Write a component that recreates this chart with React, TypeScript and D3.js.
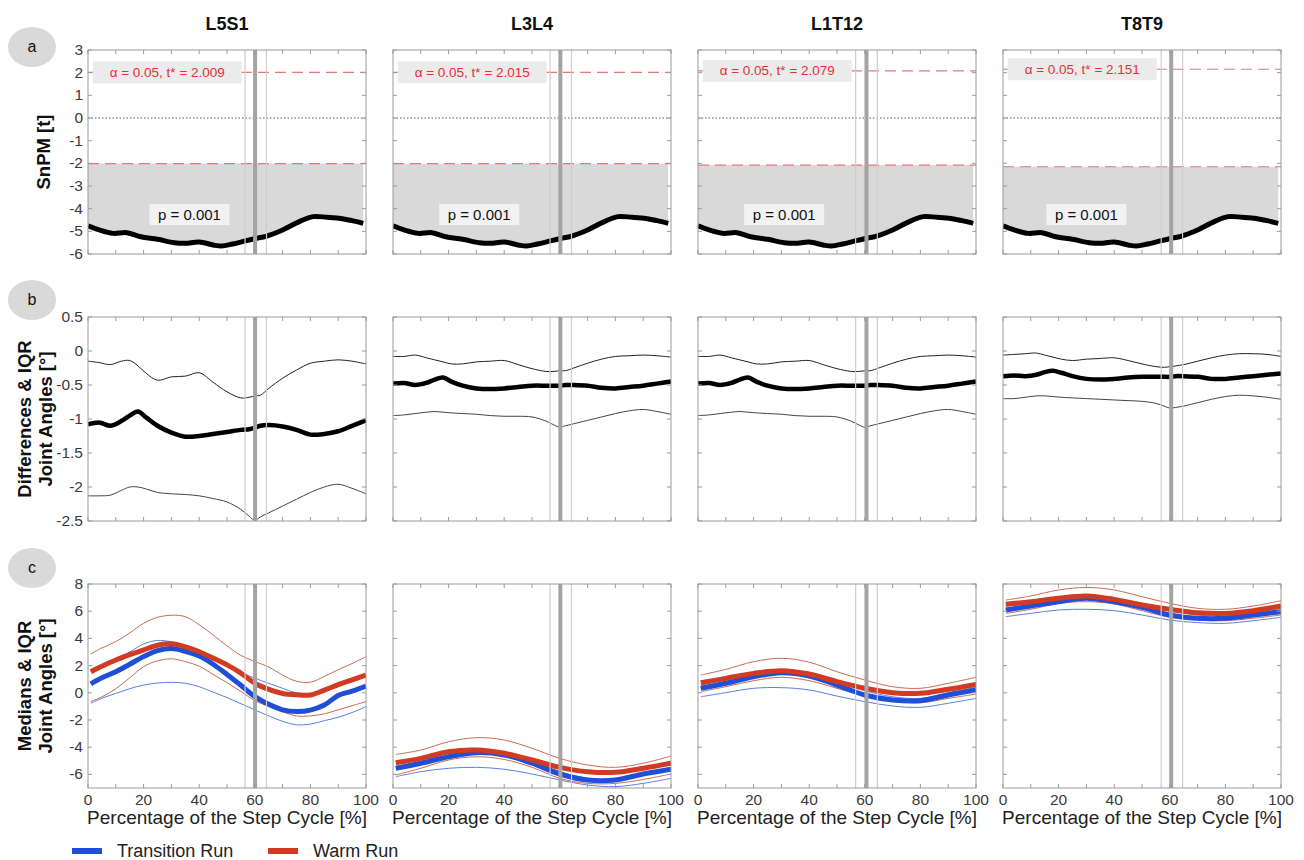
import React from "react";
import * as d3 from "d3";

// spinal segments (columns)
const segments = ["L5S1", "L3L4", "L1T12", "T8T9"];
const rowTags = ["a", "b", "c"];

// SnPM critical thresholds and cluster p values
const tCritical = [2.009, 2.015, 2.079, 2.151];
const pValues = ["0.001", "0.001", "0.001", "0.001"];
const pLabelAt = [36.5, 31, 31, 30];

// step cycle events (% of cycle)
const eventMain = [60.1, 60.2, 60.6, 60.5];
const eventEarly = [56.5, 56.5, 56.7, 56.9];
const eventLate = [64.2, 64.2, 64.5, 64.6];

// row a: SnPM t curve
const snpmX = [0, 4, 9, 14, 19, 25, 31, 35, 40, 45, 48, 52, 57, 61, 64, 70, 76, 81, 86, 91, 95, 99];
const snpmT = [-4.76, -4.94, -5.09, -5.06, -5.24, -5.35, -5.5, -5.53, -5.47, -5.6, -5.65, -5.56, -5.41, -5.3, -5.22, -4.94, -4.57, -4.35, -4.38, -4.43, -4.53, -4.65];

// row b: differences (median) and IQR
const diffX = [0, 4, 8, 12, 15, 18, 21, 25, 30, 35, 40, 45, 50, 55, 58, 60, 62, 65, 70, 75, 80, 85, 90, 95, 100];
const diffUpL5S1 = [-0.15, -0.17, -0.2, -0.15, -0.14, -0.22, -0.33, -0.43, -0.38, -0.37, -0.32, -0.46, -0.6, -0.69, -0.68, -0.66, -0.65, -0.55, -0.4, -0.28, -0.18, -0.15, -0.13, -0.15, -0.19];
const diffMedL5S1 = [-1.08, -1.05, -1.1, -1.03, -0.95, -0.89, -0.98, -1.1, -1.2, -1.26, -1.25, -1.22, -1.19, -1.16, -1.15, -1.13, -1.1, -1.09, -1.11, -1.16, -1.23, -1.22, -1.18, -1.1, -1.02];
const diffLoL5S1 = [-2.13, -2.13, -2.12, -2.05, -2.0, -2.0, -2.03, -2.08, -2.1, -2.11, -2.13, -2.17, -2.22, -2.33, -2.43, -2.49, -2.44, -2.38, -2.28, -2.18, -2.08, -2.0, -1.96, -2.02, -2.1];
const diffUpL3L4 = [-0.08, -0.08, -0.06, -0.1, -0.13, -0.16, -0.19, -0.19, -0.16, -0.15, -0.14, -0.2, -0.26, -0.3, -0.3, -0.29, -0.29, -0.25, -0.18, -0.12, -0.08, -0.07, -0.06, -0.07, -0.09];
const diffMedL3L4 = [-0.48, -0.47, -0.5, -0.47, -0.42, -0.39, -0.45, -0.51, -0.55, -0.56, -0.55, -0.53, -0.51, -0.51, -0.51, -0.51, -0.5, -0.5, -0.51, -0.54, -0.55, -0.53, -0.51, -0.48, -0.45];
const diffLoL3L4 = [-0.95, -0.94, -0.92, -0.9, -0.89, -0.9, -0.91, -0.92, -0.93, -0.95, -0.96, -0.96, -0.97, -1.03, -1.09, -1.12, -1.1, -1.07, -1.02, -0.97, -0.92, -0.88, -0.86, -0.89, -0.93];
const diffUpL1T12 = [-0.08, -0.08, -0.06, -0.1, -0.13, -0.16, -0.19, -0.19, -0.16, -0.15, -0.14, -0.2, -0.26, -0.3, -0.3, -0.29, -0.29, -0.25, -0.18, -0.12, -0.08, -0.07, -0.06, -0.07, -0.09];
const diffMedL1T12 = [-0.48, -0.47, -0.5, -0.47, -0.42, -0.39, -0.45, -0.51, -0.55, -0.56, -0.55, -0.53, -0.51, -0.51, -0.51, -0.51, -0.5, -0.5, -0.51, -0.54, -0.55, -0.53, -0.51, -0.48, -0.45];
const diffLoL1T12 = [-0.95, -0.94, -0.92, -0.9, -0.89, -0.9, -0.91, -0.92, -0.93, -0.95, -0.96, -0.96, -0.97, -1.03, -1.09, -1.12, -1.1, -1.07, -1.02, -0.97, -0.92, -0.88, -0.86, -0.89, -0.93];
const diffUpT8T9 = [-0.06, -0.05, -0.04, -0.03, -0.06, -0.09, -0.12, -0.14, -0.12, -0.11, -0.1, -0.14, -0.19, -0.23, -0.24, -0.23, -0.22, -0.2, -0.15, -0.1, -0.06, -0.04, -0.04, -0.05, -0.08];
const diffMedT8T9 = [-0.37, -0.36, -0.37, -0.35, -0.31, -0.29, -0.32, -0.37, -0.41, -0.42, -0.41, -0.39, -0.38, -0.38, -0.38, -0.38, -0.37, -0.37, -0.38, -0.41, -0.41, -0.39, -0.37, -0.35, -0.33];
const diffLoT8T9 = [-0.7, -0.7, -0.68, -0.66, -0.66, -0.67, -0.68, -0.69, -0.7, -0.71, -0.72, -0.73, -0.74, -0.77, -0.81, -0.84, -0.83, -0.81, -0.76, -0.71, -0.67, -0.65, -0.66, -0.68, -0.71];

// row c: medians and IQR of joint angles
const angleXFine = [1, 5, 10, 15, 20, 25, 30, 35, 40, 45, 50, 55, 60, 65, 70, 75, 80, 85, 90, 95, 100];
const angleXCoarse = [1, 10, 20, 30, 40, 50, 60, 70, 80, 90, 100];

const transMedL5S1 = [0.65, 1.1, 1.55, 2.1, 2.66, 3.1, 3.25, 3.05, 2.7, 2.1, 1.35, 0.55, -0.28, -0.85, -1.25, -1.38, -1.27, -0.9, -0.2, 0.12, 0.5];
const transUpL5S1 = [1.68, 2.0, 2.41, 3.0, 3.59, 3.85, 3.75, 3.5, 3.15, 2.65, 2.1, 1.5, 1.07, 0.7, 0.33, 0.0, -0.05, 0.15, 0.5, 0.9, 1.31];
const transLoL5S1 = [-0.77, -0.4, -0.05, 0.3, 0.57, 0.72, 0.77, 0.7, 0.45, 0.05, -0.35, -0.8, -1.26, -1.7, -2.1, -2.35, -2.3, -2.05, -1.8, -1.45, -1.02];
const warmMedL5S1 = [1.55, 1.95, 2.41, 2.8, 3.15, 3.5, 3.6, 3.38, 3.02, 2.55, 2.05, 1.45, 0.7, 0.25, -0.05, -0.15, -0.16, 0.2, 0.6, 0.95, 1.31];
const warmUpL5S1 = [2.85, 3.3, 3.76, 4.4, 5.11, 5.55, 5.7, 5.6, 5.0, 4.25, 3.45, 2.75, 2.3, 1.9, 1.3, 0.85, 0.78, 1.2, 1.7, 2.15, 2.66];
const warmLoL5S1 = [-0.65, -0.3, 0.3, 1.1, 1.92, 2.35, 2.5, 2.3, 1.95, 1.35, 0.75, 0.1, -0.58, -1.0, -1.4, -1.7, -1.7, -1.55, -1.25, -0.95, -0.65];

const transMedL3L4 = [-5.55, -5.18, -4.7, -4.4, -4.57, -5.18, -5.97, -6.41, -6.41, -5.97, -5.62];
const transUpL3L4 = [-5.43, -5.06, -4.45, -4.33, -4.45, -5.0, -5.8, -6.29, -6.37, -6.04, -5.55];
const transLoL3L4 = [-6.17, -5.8, -5.55, -5.48, -5.62, -5.97, -6.41, -6.78, -6.9, -6.66, -6.29];
const warmMedL3L4 = [-5.14, -4.82, -4.33, -4.21, -4.45, -4.94, -5.48, -5.8, -5.85, -5.55, -5.18];
const warmUpL3L4 = [-4.53, -4.21, -3.6, -3.3, -3.47, -4.08, -4.82, -5.31, -5.48, -5.18, -4.65];
const warmLoL3L4 = [-6.04, -5.55, -4.94, -4.7, -4.9, -5.48, -6.29, -6.66, -6.66, -6.37, -5.97];

const transMedL1T12 = [0.33, 0.7, 1.18, 1.48, 1.24, 0.57, -0.16, -0.53, -0.58, -0.16, 0.21];
const transUpL1T12 = [0.57, 0.94, 1.48, 1.68, 1.43, 0.82, 0.16, -0.29, -0.41, 0.01, 0.4];
const transLoL1T12 = [-0.29, 0.01, 0.33, 0.38, 0.21, -0.24, -0.65, -0.97, -1.07, -0.77, -0.41];
const warmMedL1T12 = [0.74, 1.06, 1.43, 1.63, 1.38, 0.82, 0.33, 0.01, -0.04, 0.26, 0.62];
const warmUpL1T12 = [1.31, 1.72, 2.29, 2.54, 2.25, 1.55, 0.94, 0.45, 0.33, 0.7, 1.14];
const warmLoL1T12 = [0.08, 0.45, 0.89, 1.14, 0.89, 0.33, -0.24, -0.58, -0.73, -0.41, -0.1];

const transMedT8T9 = [6.09, 6.38, 6.7, 6.95, 6.7, 6.29, 5.72, 5.48, 5.48, 5.72, 5.96];
const transUpT8T9 = [6.38, 6.58, 6.95, 7.12, 6.95, 6.58, 6.04, 5.72, 5.65, 5.89, 6.21];
const transLoT8T9 = [5.6, 5.84, 6.09, 6.14, 6.04, 5.72, 5.35, 5.16, 5.11, 5.3, 5.55];
const warmMedT8T9 = [6.51, 6.7, 6.95, 7.12, 6.87, 6.46, 6.14, 5.89, 5.84, 6.04, 6.38];
const warmUpT8T9 = [6.82, 7.12, 7.56, 7.75, 7.56, 7.07, 6.58, 6.21, 6.14, 6.38, 6.77];
const warmLoT8T9 = [5.84, 6.14, 6.58, 6.7, 6.53, 6.04, 5.55, 5.35, 5.3, 5.48, 5.72];

const diffUp = [diffUpL5S1, diffUpL3L4, diffUpL1T12, diffUpT8T9];
const diffMed = [diffMedL5S1, diffMedL3L4, diffMedL1T12, diffMedT8T9];
const diffLo = [diffLoL5S1, diffLoL3L4, diffLoL1T12, diffLoT8T9];
const angleX = [angleXFine, angleXCoarse, angleXCoarse, angleXCoarse];
const transMed = [transMedL5S1, transMedL3L4, transMedL1T12, transMedT8T9];
const transUp = [transUpL5S1, transUpL3L4, transUpL1T12, transUpT8T9];
const transLo = [transLoL5S1, transLoL3L4, transLoL1T12, transLoT8T9];
const warmMed = [warmMedL5S1, warmMedL3L4, warmMedL1T12, warmMedT8T9];
const warmUp = [warmUpL5S1, warmUpL3L4, warmUpL1T12, warmUpT8T9];
const warmLo = [warmLoL5S1, warmLoL3L4, warmLoL1T12, warmLoT8T9];

const legendLabels = ["Transition Run", "Warm Run"];
const xAxisTitle = "Percentage of the Step Cycle [%]";

// layout
const colLeft = [88, 393, 698, 1003];
const rowTop = [50, 317, 584];
const W = 278;
const H = 204;
const FONT = "'Liberation Sans', Arial, Helvetica, sans-serif";
const FRAME = "#9b9b9b";
const TICKTXT = "#3a3a3a";
const BLUE = "#1f4fd6";
const RED = "#d23a21";

const x = d3.scaleLinear().domain([0, 100]).range([0, W]);
const ySnpm = d3.scaleLinear().domain([-6, 3]).range([H, 0]);
const yDiff = d3.scaleLinear().domain([-2.5, 0.5]).range([H, 0]);
const yAng = d3.scaleLinear().domain([-7, 8]).range([H, 0]);
const yScales = [ySnpm, yDiff, yAng];
const yTicks = [ySnpm.ticks(9), yDiff.ticks(6), d3.range(-6, 9, 2)];

const linePath = (xs: number[], ys: number[], y: d3.ScaleLinear<number, number>) =>
  d3.line<number>()
    .x((_, i) => x(xs[i]))
    .y(d => y(d))
    .curve(d3.curveCatmullRom)(ys) || "";

function Frame({ row }: { row: number }) {
  const y = yScales[row];
  return (
    <g>
      {x.ticks(10).map(t => (
        <g key={"x" + t}>
          <line x1={x(t)} x2={x(t)} y1={H} y2={H - 4} stroke={FRAME} />
          <line x1={x(t)} x2={x(t)} y1={0} y2={4} stroke={FRAME} />
        </g>
      ))}
      {yTicks[row].map(t => (
        <g key={"y" + t}>
          <line x1={0} x2={4} y1={y(t)} y2={y(t)} stroke={FRAME} />
          <line x1={W} x2={W - 4} y1={y(t)} y2={y(t)} stroke={FRAME} />
        </g>
      ))}
      <rect x={0} y={0} width={W} height={H} fill="none" stroke={FRAME} strokeWidth={1} />
    </g>
  );
}

function Events({ col }: { col: number }) {
  return (
    <g>
      {[eventEarly[col], eventLate[col]].map((e, i) => (
        <line key={i} x1={x(e)} x2={x(e)} y1={0} y2={H} stroke="#cdcdcd" strokeWidth={1.2} />
      ))}
      <line x1={x(eventMain[col])} x2={x(eventMain[col])} y1={0} y2={H} stroke="#a4a4a4" strokeWidth={4} />
    </g>
  );
}

function SnpmPanel({ col }: { col: number }) {
  const ts = tCritical[col];
  const area = d3.area<number>()
    .x((_, i) => x(snpmX[i]))
    .y0(ySnpm(-ts))
    .y1(d => ySnpm(d))
    .curve(d3.curveCatmullRom)(snpmT) || "";
  const boxL = x(1.7), boxR = x(55.3);
  const pX = x(pLabelAt[col]), pY = ySnpm(-4.26);
  return (
    <g>
      <path d={area} fill="#d9d9d9" />
      <line x1={0} x2={W} y1={ySnpm(0)} y2={ySnpm(0)} stroke="#333" strokeWidth={0.8} strokeDasharray="1.5 2" />
      <line x1={0} x2={W} y1={ySnpm(ts)} y2={ySnpm(ts)} stroke="#e27a7a" strokeWidth={1.2} strokeDasharray="11 6" />
      <line x1={0} x2={W} y1={ySnpm(-ts)} y2={ySnpm(-ts)} stroke="#e27a7a" strokeWidth={1.2} strokeDasharray="11 6" />
      <rect x={boxL} y={ySnpm(ts) - 11} width={boxR - boxL} height={22} fill="#ebebeb" />
      <text x={(boxL + boxR) / 2} y={ySnpm(ts) + 4.5} textAnchor="middle" fontSize={13.5} fill="#e3303a" fontFamily={FONT}>
        {`α = 0.05, t* = ${ts.toFixed(3)}`}
      </text>
      <rect x={pX - 40} y={pY - 10.5} width={80} height={21} fill="#f2f2f2" />
      <text x={pX} y={pY + 5} textAnchor="middle" fontSize={15} fill="#111" fontFamily={FONT}>
        {`p = ${pValues[col]}`}
      </text>
      <path d={linePath(snpmX, snpmT, ySnpm)} fill="none" stroke="#000" strokeWidth={5} strokeLinejoin="round" />
    </g>
  );
}

function DiffPanel({ col }: { col: number }) {
  return (
    <g>
      <path d={linePath(diffX, diffUp[col], yDiff)} fill="none" stroke="#222" strokeWidth={1} />
      <path d={linePath(diffX, diffLo[col], yDiff)} fill="none" stroke="#444" strokeWidth={1} />
      <path d={linePath(diffX, diffMed[col], yDiff)} fill="none" stroke="#000" strokeWidth={4.5} strokeLinejoin="round" />
    </g>
  );
}

function AnglePanel({ col }: { col: number }) {
  const xs = angleX[col];
  return (
    <g>
      <path d={linePath(xs, transUp[col], yAng)} fill="none" stroke="#5b80da" strokeWidth={1} />
      <path d={linePath(xs, transLo[col], yAng)} fill="none" stroke="#5b80da" strokeWidth={1} />
      <path d={linePath(xs, warmUp[col], yAng)} fill="none" stroke="#cc6a55" strokeWidth={1} />
      <path d={linePath(xs, warmLo[col], yAng)} fill="none" stroke="#cc6a55" strokeWidth={1} />
      <path d={linePath(xs, transMed[col], yAng)} fill="none" stroke={BLUE} strokeWidth={5} />
      <path d={linePath(xs, warmMed[col], yAng)} fill="none" stroke={RED} strokeWidth={5} />
    </g>
  );
}

const yTitles = [["SnPM [t]"], ["Differences & IQR", "Joint Angles [°]"], ["Medians & IQR", "Joint Angles [°]"]];
const tagCenters = [47, 300, 568];

export default function App() {
  return (
    <svg width={1304} height={860} style={{ position: "absolute", left: 0, top: 0, background: "#fff" }} fontFamily={FONT}>
      <defs>
        <clipPath id="plot-clip">
          <rect x={0} y={0} width={W} height={H} />
        </clipPath>
      </defs>

      {segments.map((s, c) => (
        <text key={s} x={colLeft[c] + W / 2} y={30} textAnchor="middle" fontSize={18} fontWeight="bold" fill="#111">{s}</text>
      ))}

      {rowTags.map((t, r) => (
        <g key={t}>
          <ellipse cx={32} cy={tagCenters[r]} rx={24} ry={20} fill="#d9d9d9" />
          <text x={32} y={tagCenters[r] + 5} textAnchor="middle" fontSize={16} fill="#111">{t}</text>
        </g>
      ))}

      {yTitles.map((lines, r) => {
        const cy = rowTop[r] + H / 2;
        const xs = lines.length === 1 ? [50] : [31, 52];
        return lines.map((l, i) => (
          <text key={r + "-" + i} transform={`translate(${xs[i]},${cy}) rotate(-90)`} textAnchor="middle" fontSize={18.5} fontWeight="bold" fill="#111">{l}</text>
        ));
      })}

      {rowTop.map((top, r) => (
        <g key={"row" + r}>
          {yTicks[r].map(t => (
            <text key={t} x={83} y={top + yScales[r](t) + 5} textAnchor="end" fontSize={15.5} fill={TICKTXT}>{String(t)}</text>
          ))}
          {segments.map((s, c) => (
            <g key={s} transform={`translate(${colLeft[c]},${top})`}>
              <rect x={0} y={0} width={W} height={H} fill="#fff" />
              <g clipPath="url(#plot-clip)">
                {r === 0 && <SnpmPanel col={c} />}
                {r === 1 && <DiffPanel col={c} />}
                {r === 2 && <AnglePanel col={c} />}
                <Events col={c} />
              </g>
              <Frame row={r} />
            </g>
          ))}
        </g>
      ))}

      {segments.map((s, c) => (
        <g key={"xa" + s} transform={`translate(${colLeft[c]},${rowTop[2] + H})`}>
          {d3.range(0, 101, 20).map(t => (
            <text key={t} x={x(t)} y={17} textAnchor="middle" fontSize={15.5} fill={TICKTXT}>{t}</text>
          ))}
          <text x={W / 2} y={36} textAnchor="middle" fontSize={19} fill="#222">{xAxisTitle}</text>
        </g>
      ))}

      <g>
        <line x1={72} x2={102} y1={851} y2={851} stroke={BLUE} strokeWidth={6} />
        <text x={117} y={857} fontSize={18} fill="#222">{legendLabels[0]}</text>
        <line x1={268} x2={298} y1={851} y2={851} stroke={RED} strokeWidth={6} />
        <text x={313} y={857} fontSize={18} fill="#222">{legendLabels[1]}</text>
      </g>
    </svg>
  );
}
